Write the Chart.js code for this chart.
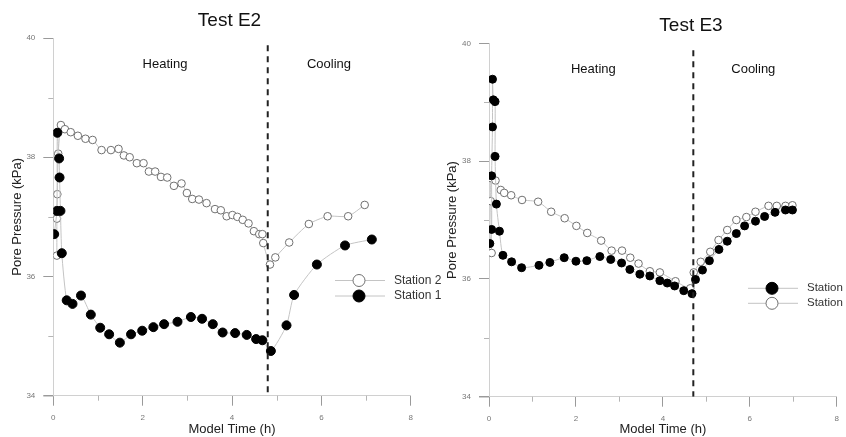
<!DOCTYPE html>
<html>
<head>
<meta charset="utf-8">
<script src="https://cdn.jsdelivr.net/npm/chart.js@4/dist/chart.umd.min.js"></script>
<style>
  body { margin: 0; background: #fff; }
  #wrap { position: relative; width: 846px; height: 437px; overflow: hidden; }
  canvas { position: absolute; top: 0; }
</style>
</head>
<body>
<div id="wrap">
  <canvas id="chartE2" width="446" height="437" style="left:0px"></canvas>
  <canvas id="chartE3" width="411" height="437" style="left:435px"></canvas>
</div>
<script>
//Test E2 data
var e2Station2Time = [0.08, 0.08, 0.09, 0.11, 0.17, 0.26, 0.39, 0.55, 0.72, 0.88, 1.08, 1.29, 1.46, 1.58, 1.71, 1.87, 2.02, 2.14, 2.28, 2.41, 2.55, 2.70, 2.87, 2.99, 3.11, 3.26, 3.43, 3.62, 3.75, 3.88, 4.01, 4.12, 4.24, 4.37, 4.49, 4.61, 4.68, 4.70, 4.85, 4.97, 5.28, 5.72, 6.14, 6.60, 6.97];
var e2Station2Pressure = [36.35, 36.97, 37.38, 38.06, 38.54, 38.47, 38.42, 38.36, 38.31, 38.29, 38.12, 38.12, 38.14, 38.03, 38.00, 37.90, 37.90, 37.76, 37.76, 37.67, 37.66, 37.52, 37.56, 37.40, 37.30, 37.29, 37.23, 37.13, 37.11, 37.01, 37.03, 37.00, 36.95, 36.89, 36.76, 36.71, 36.71, 36.56, 36.20, 36.32, 36.57, 36.88, 37.01, 37.01, 37.20];
var e2Station1Time = [0.02, 0.08, 0.09, 0.13, 0.14, 0.16, 0.19, 0.30, 0.43, 0.62, 0.84, 1.05, 1.25, 1.49, 1.74, 1.99, 2.24, 2.48, 2.78, 3.08, 3.33, 3.57, 3.79, 4.07, 4.33, 4.54, 4.68, 4.87, 5.22, 5.39, 5.90, 6.53, 7.13];
var e2Station1Pressure = [36.71, 37.10, 38.41, 37.98, 37.66, 37.10, 36.39, 35.60, 35.54, 35.68, 35.36, 35.14, 35.03, 34.89, 35.03, 35.09, 35.15, 35.20, 35.24, 35.32, 35.29, 35.20, 35.06, 35.05, 35.02, 34.95, 34.93, 34.75, 35.18, 35.69, 36.20, 36.52, 36.62];
var e2SwitchTime = 4.8;

//Test E3 data
var e3FilledTime = [0.02, 0.06, 0.06, 0.08, 0.08, 0.10, 0.14, 0.14, 0.17, 0.24, 0.32, 0.52, 0.75, 1.15, 1.40, 1.73, 2.00, 2.25, 2.55, 2.80, 3.05, 3.24, 3.47, 3.70, 3.93, 4.10, 4.27, 4.48, 4.67, 4.75, 4.91, 5.07, 5.29, 5.48, 5.69, 5.88, 6.13, 6.34, 6.58, 6.82, 6.98];
var e3FilledPressure = [36.60, 36.84, 37.75, 38.58, 39.39, 39.04, 39.01, 38.08, 37.27, 36.81, 36.40, 36.29, 36.19, 36.23, 36.28, 36.36, 36.30, 36.31, 36.38, 36.33, 36.27, 36.16, 36.08, 36.05, 35.97, 35.93, 35.88, 35.80, 35.75, 35.99, 36.15, 36.31, 36.50, 36.64, 36.77, 36.90, 36.98, 37.06, 37.13, 37.17, 37.17];
var e3OpenTime = [0.06, 0.04, 0.05, 0.15, 0.27, 0.35, 0.51, 0.76, 1.13, 1.43, 1.74, 2.01, 2.26, 2.58, 2.82, 3.06, 3.25, 3.44, 3.70, 3.93, 4.29, 4.63, 4.71, 4.87, 5.09, 5.28, 5.48, 5.69, 5.92, 6.13, 6.43, 6.62, 6.82, 6.98];
var e3OpenPressure = [36.44, 37.32, 37.71, 37.67, 37.51, 37.46, 37.42, 37.34, 37.31, 37.14, 37.03, 36.90, 36.78, 36.65, 36.48, 36.48, 36.36, 36.26, 36.13, 36.11, 35.96, 35.84, 36.11, 36.29, 36.46, 36.66, 36.83, 37.00, 37.05, 37.14, 37.24, 37.24, 37.24, 37.25];
var e3SwitchTime = 4.7;

var timeTicks = [0, 2, 4, 6, 8];
var pressureTicks = [34, 36, 38, 40];

Chart.defaults.font.family = "'Liberation Sans', Arial, sans-serif";

function toPoints(xs, ys) {
  var pts = [];
  for (var i = 0; i < xs.length; i++) {
    pts.push({ x: xs[i], y: ys[i] });
  }
  return pts;
}

function openSeries(label, xs, ys, r) {
  return {
    label: label,
    data: toPoints(xs, ys),
    borderColor: "#c4c4c4",
    borderWidth: 1,
    tension: 0.2,
    pointRadius: r,
    pointBackgroundColor: "#fff",
    pointBorderColor: "#707070",
    pointBorderWidth: 1,
    legendRadius: 6,
  };
}

function filledSeries(label, xs, ys, r) {
  return {
    label: label,
    data: toPoints(xs, ys),
    borderColor: "#c4c4c4",
    borderWidth: 1,
    tension: 0.2,
    pointRadius: r,
    pointBackgroundColor: "#000",
    pointBorderColor: "#000",
    pointBorderWidth: 1,
    legendRadius: 6,
  };
}

function switchLine(t) {
  return {
    label: "",
    data: [{ x: t, y: 39.88 }, { x: t, y: 34 }],
    borderColor: "#222",
    borderWidth: 2,
    borderDash: [6, 5],
    pointRadius: 0,
  };
}

//Draws title, phase labels, minor ticks and legend
var panelExtras = {
  id: "panelExtras",
  afterDraw: function (chart) {
    var o = chart.options.plugins.panelExtras;
    var ctx = chart.ctx;
    var xs = chart.scales.x;
    var ys = chart.scales.y;
    ctx.save();

    ctx.strokeStyle = "#d0d0d0";
    ctx.lineWidth = 1;
    ctx.beginPath();
    ctx.moveTo(xs.left - 10, Math.round(ys.bottom) + 0.5);
    ctx.lineTo(xs.left, Math.round(ys.bottom) + 0.5);
    ctx.stroke();

    ctx.strokeStyle = "#b5b5b5";
    for (var v = 35; v < 40; v += 2) {
      var py = Math.round(ys.getPixelForValue(v)) + 0.5;
      ctx.beginPath();
      ctx.moveTo(xs.left - 5, py);
      ctx.lineTo(xs.left, py);
      ctx.stroke();
    }
    for (var t = 1; t < 8; t += 2) {
      var px = Math.round(xs.getPixelForValue(t)) + 0.5;
      ctx.beginPath();
      ctx.moveTo(px, ys.bottom);
      ctx.lineTo(px, ys.bottom + 5);
      ctx.stroke();
    }

    ctx.fillStyle = "#111";
    ctx.textAlign = "center";
    ctx.textBaseline = "middle";
    ctx.font = "19px 'Liberation Sans', Arial, sans-serif";
    ctx.fillText(o.title, o.titleX, o.titleY);

    ctx.font = "13px 'Liberation Sans', Arial, sans-serif";
    ctx.fillText("Heating", xs.getPixelForValue(o.heatX), ys.getPixelForValue(o.phaseY));
    ctx.fillText("Cooling", xs.getPixelForValue(o.coolX), ys.getPixelForValue(o.phaseY));

    //legend
    var rows = o.legendOrder;
    ctx.font = o.legendFont + "px 'Liberation Sans', Arial, sans-serif";
    ctx.textAlign = "left";
    for (var i = 0; i < rows.length; i++) {
      var ds = chart.data.datasets[rows[i]];
      var ly = o.legendY + i * o.legendGap;
      ctx.strokeStyle = "#c4c4c4";
      ctx.beginPath();
      ctx.moveTo(o.legendX, ly);
      ctx.lineTo(o.legendX + 50, ly);
      ctx.stroke();
      ctx.beginPath();
      ctx.arc(o.legendX + 24, ly, ds.legendRadius, 0, Math.PI * 2);
      ctx.fillStyle = ds.pointBackgroundColor;
      ctx.fill();
      ctx.strokeStyle = ds.pointBorderColor;
      ctx.stroke();
      ctx.fillStyle = "#333";
      ctx.fillText(ds.label, o.legendX + 59, ly);
    }
    ctx.restore();
  },
};

function makeChart(id, datasets, extras, pad, yWidth, xHeight) {
  var config = {
    type: "line",
    data: { datasets: datasets },
    options: {
      responsive: false,
      animation: false,
      layout: { padding: pad },
      plugins: {
        legend: { display: false },
        tooltip: { enabled: false },
        panelExtras: extras,
      },
      scales: {
        x: {
          type: "linear",
          min: 0,
          max: 8,
          afterBuildTicks: function (s) {
            s.ticks = timeTicks.map(function (v) { return { value: v }; });
          },
          afterFit: function (s) { s.height = xHeight; },
          ticks: { color: "#777", font: { size: 8 }, padding: 7, maxRotation: 0 },
          grid: { drawOnChartArea: false, tickLength: 10, tickColor: "#9a9a9a" },
          border: { color: "#d0d0d0" },
          title: {
            display: true,
            text: "Model Time (h)",
            color: "#222",
            font: { size: 13 },
            padding: 0,
          },
        },
        y: {
          type: "linear",
          min: 34,
          max: 40,
          afterBuildTicks: function (s) {
            s.ticks = pressureTicks.map(function (v) { return { value: v }; });
          },
          afterFit: function (s) { s.width = yWidth; },
          ticks: { color: "#777", font: { size: 8 }, padding: 8 },
          grid: { drawOnChartArea: false, tickLength: 10, tickColor: "#9a9a9a" },
          border: { color: "#d0d0d0" },
          title: {
            display: true,
            text: "Pore Pressure (kPa)",
            color: "#222",
            font: { size: 13 },
            padding: { top: 10, bottom: 0 },
          },
        },
      },
    },
    plugins: [panelExtras],
  };
  return new Chart(document.getElementById(id), config);
}

makeChart(
  "chartE2",
  [
    switchLine(e2SwitchTime),
    filledSeries("Station 1", e2Station1Time, e2Station1Pressure, 4.5),
    openSeries("Station 2", e2Station2Time, e2Station2Pressure, 3.8),
  ],
  {
    title: "Test E2", titleX: 229.5, titleY: 21,
    heatX: 2.5, coolX: 6.17, phaseY: 39.55,
    legendOrder: [2, 1], legendX: 335, legendY: 280.5, legendGap: 15.5, legendFont: 12,
  },
  { left: 0, top: 38, right: 35.3, bottom: 0 },
  53.3,
  41.3
);

makeChart(
  "chartE3",
  [
    switchLine(e3SwitchTime),
    filledSeries("Station", e3FilledTime, e3FilledPressure, 4),
    openSeries("Station", e3OpenTime, e3OpenPressure, 3.8),
  ],
  {
    title: "Test E3", titleX: 256, titleY: 25.5,
    heatX: 2.4, coolX: 6.08, phaseY: 39.55,
    legendOrder: [1, 2], legendX: 313, legendY: 288.3, legendGap: 15, legendFont: 11.5,
  },
  { left: 0, top: 43.3, right: 4.3, bottom: 0 },
  54,
  40.3
);
</script>
</body>
</html>
